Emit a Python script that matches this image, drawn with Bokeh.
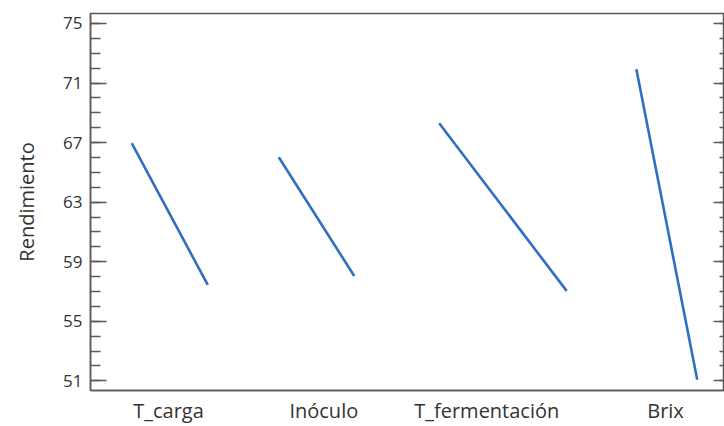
from bokeh.plotting import figure
from bokeh.models import FixedTicker, LinearAxis, Range1d
from bokeh.embed import file_html
from bokeh.resources import INLINE

# Data (main effects): each factor has a low and high level position and mean response
factors = ["T_carga", "Inóculo", "T_fermentación", "Brix"]
x_low = [0.65, 2.97, 5.50, 8.61]
x_high = [1.85, 4.16, 7.51, 9.57]
label_pos = [1.23, 3.68, 6.25, 9.07]
y_low = [66.96, 66.02, 68.30, 71.92]
y_high = [57.44, 58.04, 57.04, 51.07]
y_ticks = [51, 55, 59, 63, 67, 71, 75]
y_minor = list(range(50, 77))

FONT = "Open Sans"
TXT = "#333333"
AX = "#5a5a5a"

p = figure(width=724, height=426, output_backend="svg", toolbar_location=None,
           x_range=Range1d(0, 10), y_range=Range1d(50.35, 75.67),
           min_border_left=90, min_border_right=0, min_border_top=13, min_border_bottom=20)
p.grid.visible = False
p.background_fill_color = "white"
p.border_fill_color = "white"
p.outline_line_color = AX
p.outline_line_width = 1.5

for i in range(len(factors)):
    p.line([x_low[i], x_high[i]], [y_low[i], y_high[i]], line_color="#2f6fbf", line_width=2.6)

# Left axis
ya = p.yaxis[0]
ya.ticker = FixedTicker(ticks=y_ticks, minor_ticks=y_minor)
ya.major_tick_in = 16
ya.major_tick_out = 0
ya.minor_tick_in = 10
ya.minor_tick_out = 0
ya.axis_line_color = AX
ya.axis_line_width = 1.5
ya.major_tick_line_color = AX
ya.minor_tick_line_color = AX
ya.major_tick_line_width = 1.5
ya.minor_tick_line_width = 1.5
ya.major_label_text_font = FONT
ya.major_label_text_font_size = "17px"
ya.major_label_text_color = TXT
ya.major_label_standoff = 8
ya.axis_label = "Rendimiento"
ya.axis_label_text_font = FONT
ya.axis_label_text_font_size = "20px"
ya.axis_label_text_font_style = "normal"
ya.axis_label_text_color = TXT
ya.axis_label_standoff = 20

# Right axis (ticks only, pointing inward)
ra = LinearAxis(ticker=FixedTicker(ticks=y_ticks, minor_ticks=y_minor))
ra.major_tick_in = 11
ra.major_tick_out = 0
ra.minor_tick_in = 5
ra.minor_tick_out = 0
ra.axis_line_color = AX
ra.axis_line_width = 1.5
ra.major_tick_line_color = AX
ra.minor_tick_line_color = AX
ra.major_tick_line_width = 1.5
ra.minor_tick_line_width = 1.5
ra.major_label_overrides = {t: "" for t in y_ticks}
ra.major_label_standoff = 0
p.add_layout(ra, "right")

# Bottom axis with factor labels
xa = p.xaxis[0]
xa.ticker = FixedTicker(ticks=label_pos)
xa.major_label_overrides = {label_pos[i]: factors[i] for i in range(len(factors))}
xa.major_tick_line_color = None
xa.minor_tick_line_color = None
xa.axis_line_color = AX
xa.axis_line_width = 1.5
xa.axis_label_standoff = 0
xa.major_label_text_font = FONT
xa.major_label_text_font_size = "20px"
xa.major_label_text_color = TXT
xa.major_label_standoff = 0

open("out.html", "w").write(file_html(p, INLINE))
